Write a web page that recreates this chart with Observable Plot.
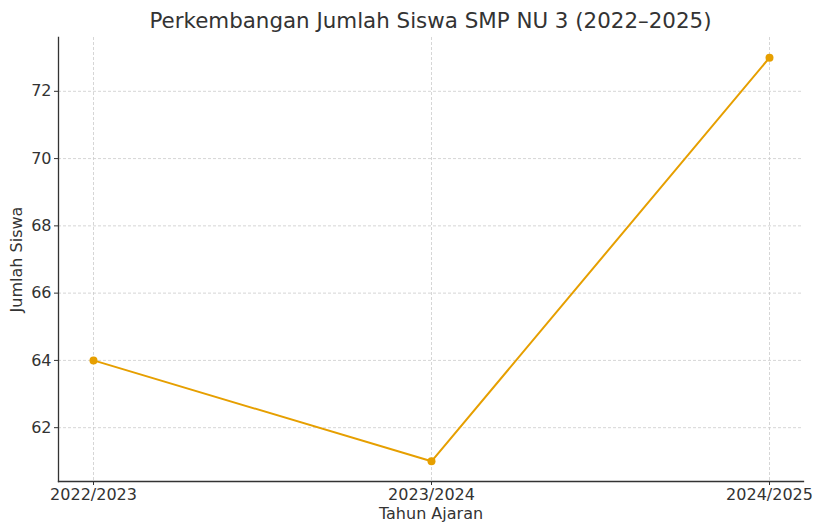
<!DOCTYPE html>
<html>
<head>
<meta charset="utf-8">
<script src="https://cdn.jsdelivr.net/npm/d3@7"></script>
<script src="https://cdn.jsdelivr.net/npm/@observablehq/plot@0.6"></script>
<style>
  body { margin: 0; background: #fff; font-family: "DejaVu Sans", sans-serif; }
  #title { height: 32px; width: 814px; box-sizing: border-box; padding-left: 47px; text-align: center; font-size: 21.4px; color: #333; line-height: 22px; padding-top: 10px; white-space: nowrap; }
</style>
</head>
<body>
<div id="title">Perkembangan Jumlah Siswa SMP NU 3 (2022–2025)</div>
<div id="chart"></div>
<script>
const years = ["2022/2023", "2023/2024", "2024/2025"];
const students = [64, 61, 73];
const yTicks = [62, 64, 66, 68, 70, 72];
const yDomain = [60.4, 73.6];

const data = years.map((y, i) => ({year: y, n: students[i]}));
const orange = "#E69F00";
const textColor = "#333";

const chart = Plot.plot({
  width: 814,
  height: 494,
  marginTop: 5,
  marginBottom: 45,
  marginLeft: 58,
  marginRight: 11,
  style: {fontFamily: "DejaVu Sans, sans-serif", fontSize: "16px", color: textColor, background: "#fff"},
  x: {type: "point", domain: years, padding: 0.1, label: null},
  y: {domain: yDomain, label: null},
  marks: [
    Plot.ruleX(years, {x: d => d, stroke: "#ccc", strokeWidth: 0.8, strokeDasharray: "3,2"}),
    Plot.ruleY(yTicks, {y: d => d, stroke: "#ccc", strokeWidth: 0.8, strokeDasharray: "3,2"}),
    Plot.axisX({ticks: years, tickSize: 4, tickPadding: 3, stroke: textColor, fill: textColor, fontSize: 16, label: "Tahun Ajaran", labelAnchor: "center", labelOffset: 37, labelArrow: "none"}),
    Plot.axisY({ticks: yTicks, tickSize: 4, tickPadding: 3, stroke: textColor, fill: textColor, fontSize: 16, label: "Jumlah Siswa", labelAnchor: "center", labelOffset: 48, labelArrow: "none"}),
    Plot.frame({anchor: "left", stroke: textColor, strokeWidth: 1.3}),
    Plot.frame({anchor: "bottom", stroke: textColor, strokeWidth: 1.3}),
    Plot.line(data, {x: "year", y: "n", stroke: orange, strokeWidth: 2}),
    Plot.dot(data, {x: "year", y: "n", fill: orange, r: 4})
  ]
});
document.getElementById("chart").appendChild(chart);
</script>
</body>
</html>
